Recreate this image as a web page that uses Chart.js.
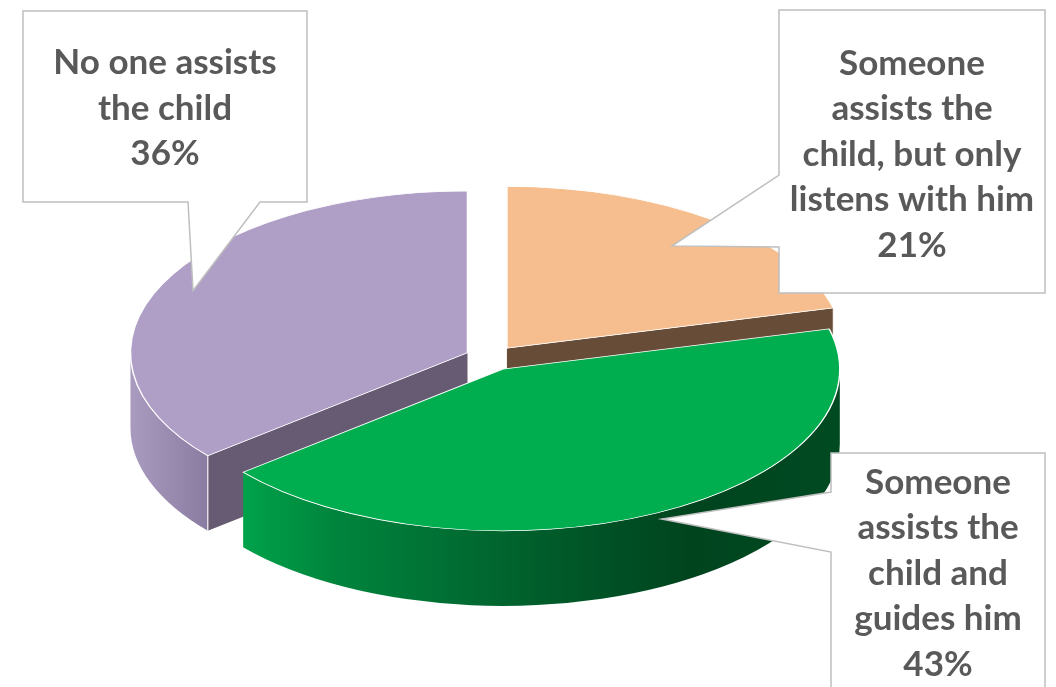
<!DOCTYPE html>
<html><head><meta charset="utf-8">
<script src="https://cdn.jsdelivr.net/npm/chart.js@4.4.0/dist/chart.umd.min.js"></script>
<style>html,body{margin:0;padding:0;background:#fff;overflow:hidden}canvas{display:block}</style>
</head><body>
<canvas id="c" width="1056" height="687"></canvas>
<script>
// ---- data ----
const categories = [
  "Someone assists the child, but only listens with him",
  "Someone assists the child and guides him",
  "No one assists the child"
];
const values = [21, 43, 36];
const labelLines = [
  ["Someone", "assists the", "child, but only", "listens with him"],
  ["Someone", "assists the", "child and", "guides him"],
  ["No one assists", "the child"]
];
const topColors = ["#f6be8e", "#00ad4f", "#af9ec5"];
const radialWallColors = ["#674c37", "#00401c", "#665b73"];
const outerWallStops = [
  [[0, "#8a6a4f"], [1, "#5a3f2c"]],
  [[0, "#00a24a"], [0.15, "#00853d"], [0.55, "#005728"], [0.75, "#00441e"], [1, "#004a22"]],
  [[0, "#a99bc0"], [0.5, "#9a8bb1"], [1, "#8a7ca0"]]
];

// ---- 3D styling constants ----
const TILT = 0.48;        // vertical squash of the pie
const DEPTH = 75;         // screen px thickness
const EXPLODE = 26;       // radial explode distance (chart units)
const CENTER_Y = 358;     // screen y of pie centre
const FONT = 'bold 35px Lato, "Open Sans", sans-serif';
const TEXT_COLOR = '#595959';
const LINE_H = 45.5;

// callout boxes (index follows data order)
const boxes = [
  {x: 779, y: 10, w: 266, h: 283, edge: 'left', n0: 175, n1: 247, tipR: 0.8, ty: 154.5},
  {x: 831, y: 453, w: 214, h: 240, edge: 'left', n0: 492, n1: 552, tipR: 1.04, ty: 573.5},
  {x: 23, y: 11, w: 284, h: 191, edge: 'bottom', n0: 188, n1: 260, tipR: 0.9, ty: 108.5}
];

let Ty = 0;
const pie3d = {
  id: 'pie3d',
  beforeDatasetsDraw(chart) {
    const ctx = chart.ctx;
    const arcs = chart.getDatasetMeta(0).data;
    Ty = CENTER_Y - TILT * arcs[0].y;
    arcs.forEach(a => {
      const mid = (a.startAngle + a.endAngle) / 2;
      a._ox = a.x; a._oy = a.y;
      a.x += Math.cos(mid) * EXPLODE;
      a.y += Math.sin(mid) * EXPLODE;
    });
    ctx.save();
    ctx.translate(0, Ty);
    ctx.scale(1, TILT);
    const D = DEPTH / TILT;
    const order = arcs.map((a, i) => i).sort((i, j) => {
      const mi = (arcs[i].startAngle + arcs[i].endAngle) / 2;
      const mj = (arcs[j].startAngle + arcs[j].endAngle) / 2;
      return Math.sin(mi) - Math.sin(mj);
    });
    order.forEach(i => {
      const a = arcs[i];
      const R = a.outerRadius, x = a.x, y = a.y;
      const a0 = a.startAngle, a1 = a.endAngle;
      // radial walls
      const walls = [];
      if (Math.cos(a0) < -1e-6) walls.push(a0);
      if (Math.cos(a1) > 1e-6) walls.push(a1);
      walls.forEach(ang => {
        const px = x + R * Math.cos(ang), py = y + R * Math.sin(ang);
        ctx.beginPath();
        ctx.moveTo(x, y); ctx.lineTo(px, py); ctx.lineTo(px, py + D); ctx.lineTo(x, y + D);
        ctx.closePath();
        ctx.fillStyle = radialWallColors[i];
        ctx.fill();
      });
      // outer curved wall (front half)
      const b0 = Math.max(a0, 0), b1 = Math.min(a1, Math.PI);
      if (b1 > b0) {
        ctx.beginPath();
        ctx.arc(x, y, R, b0, b1);
        ctx.lineTo(x + R * Math.cos(b1), y + D + R * Math.sin(b1));
        ctx.arc(x, y + D, R, b1, b0, true);
        ctx.closePath();
        const gx0 = x + R * Math.cos(b1), gx1 = x + R * Math.cos(b0);
        const g = ctx.createLinearGradient(Math.min(gx0, gx1), 0, Math.max(gx0, gx1), 0);
        outerWallStops[i].forEach(s => g.addColorStop(s[0], s[1]));
        ctx.fillStyle = g;
        ctx.fill();
      }
      // white vertical edges
      ctx.save();
      ctx.setTransform(1, 0, 0, 1, 0, 0);
      ctx.strokeStyle = 'rgba(255,255,255,0.9)';
      ctx.lineWidth = 1.2;
      walls.forEach(ang => {
        const sx = x + R * Math.cos(ang), sy = Ty + TILT * (y + R * Math.sin(ang));
        ctx.beginPath(); ctx.moveTo(sx, sy); ctx.lineTo(sx, sy + DEPTH); ctx.stroke();
      });
      ctx.restore();
    });
  },
  afterDatasetsDraw(chart) {
    const ctx = chart.ctx;
    ctx.restore();
    const arcs = chart.getDatasetMeta(0).data;
    const tips = arcs.map((a, i) => {
      const mid = (a.startAngle + a.endAngle) / 2;
      const r = a.outerRadius * boxes[i].tipR;
      return {x: a.x + Math.cos(mid) * r, y: Ty + TILT * (a.y + Math.sin(mid) * r)};
    });
    arcs.forEach(a => { a.x = a._ox; a.y = a._oy; });
    const total = values.reduce((s, v) => s + v, 0);
    boxes.forEach((b, i) => {
      const t = tips[i];
      ctx.save();
      ctx.beginPath();
      if (b.edge === 'bottom') {
        ctx.moveTo(b.x, b.y); ctx.lineTo(b.x + b.w, b.y); ctx.lineTo(b.x + b.w, b.y + b.h);
        ctx.lineTo(b.n1, b.y + b.h); ctx.lineTo(t.x, t.y); ctx.lineTo(b.n0, b.y + b.h);
        ctx.lineTo(b.x, b.y + b.h);
      } else {
        ctx.moveTo(b.x, b.y); ctx.lineTo(b.x + b.w, b.y); ctx.lineTo(b.x + b.w, b.y + b.h);
        ctx.lineTo(b.x, b.y + b.h); ctx.lineTo(b.x, b.n1); ctx.lineTo(t.x, t.y); ctx.lineTo(b.x, b.n0);
      }
      ctx.closePath();
      ctx.fillStyle = '#ffffff';
      ctx.fill();
      ctx.strokeStyle = '#bfbfbf';
      ctx.lineWidth = 1.5;
      ctx.stroke();
      const lines = labelLines[i].concat([Math.round(values[i] / total * 100) + '%']);
      ctx.font = FONT;
      ctx.fillStyle = TEXT_COLOR;
      ctx.textAlign = 'center';
      ctx.textBaseline = 'middle';
      const cx = b.x + b.w / 2;
      const y0 = b.ty - (lines.length - 1) * LINE_H / 2;
      lines.forEach((ln, j) => ctx.fillText(ln, cx, y0 + j * LINE_H));
      ctx.restore();
    });
  }
};

new Chart(document.getElementById('c'), {
  type: 'pie',
  data: {
    labels: categories,
    datasets: [{
      data: values,
      backgroundColor: topColors,
      borderColor: '#ffffff',
      borderWidth: 1.5,
      radius: 337,
      clip: false
    }]
  },
  options: {
    responsive: false,
    animation: false,
    layout: {padding: {left: 0, right: 74, top: 0, bottom: 0}},
    plugins: {legend: {display: false}, tooltip: {enabled: false}}
  },
  plugins: [pie3d]
});
</script>
</body></html>
